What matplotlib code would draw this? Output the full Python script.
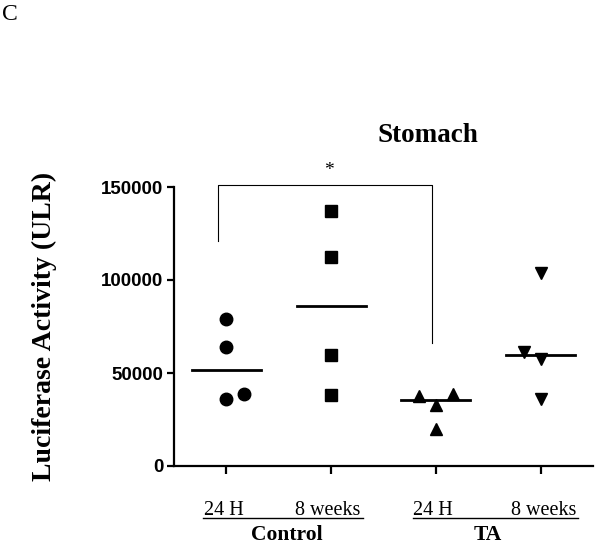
import matplotlib
matplotlib.use("Agg")
import matplotlib.pyplot as plt
import numpy as np

groups = ["Control 24 H", "Control 8 weeks", "TA 24 H", "TA 8 weeks"]
values = [
    [79200, 64100, 36200, 38700],
    [136900, 112200, 59500, 38000],
    [37500, 38500, 33000, 20000],
    [103900, 61300, 57700, 36200],
]
offsets = [
    [0.0, 0.0, 0.0, 0.17],
    [0.0, 0.0, 0.0, 0.0],
    [-0.16, 0.16, 0.0, 0.0],
    [0.0, -0.16, 0.0, 0.0],
]
markers = ["o", "s", "^", "v"]
sub_labels = ["24 H", "8 weeks", "24 H", "8 weeks"]
main_labels = ["Control", "TA"]
yticks = [0, 50000, 100000, 150000]

W, H = 601, 548
fig = plt.figure(figsize=(W / 100, H / 100), dpi=100)
ax = fig.add_axes([174 / W, 82 / H, (593 - 174) / W, (466 - 187) / H])

for i, (vals, offs, m) in enumerate(zip(values, offsets, markers)):
    xs = np.array(offs) + i
    ax.plot(xs, vals, linestyle="none", marker=m, color="black",
            markersize=9 if m != "s" else 8.5, clip_on=False, zorder=3)
    med = np.median(vals)
    ax.plot([i - 0.33, i + 0.33], [med, med], color="black", lw=2, zorder=2)

ax.set_xlim(-0.5, 3.5)
ax.set_ylim(0, 150000)
ax.set_xticks(range(4))
ax.set_xticklabels([])
ax.set_yticks(yticks)
ax.set_yticklabels([str(v) for v in yticks], fontname="Liberation Sans",
                   fontweight="bold", fontsize=13.5)
for s in ["top", "right"]:
    ax.spines[s].set_visible(False)
for s in ["left", "bottom"]:
    ax.spines[s].set_linewidth(1.6)
ax.tick_params(axis="y", length=5, width=1.6, pad=2.5)
ax.tick_params(axis="x", length=6, width=1.6)

# significance bracket
bx = [-0.08, -0.08, 1.96, 1.96]
by = [121000, 151200, 151200, 66300]
ax.plot(bx, by, color="black", lw=0.8, clip_on=False)
ax.text(0.98, 154500, "*", ha="center", va="bottom", fontsize=14,
        fontname="Liberation Serif")

ax.set_ylabel("Luciferase Activity (ULR)", fontname="Liberation Serif",
              fontweight="bold", fontsize=20)
ax.yaxis.set_label_coords((57 - 174) / (593 - 174), 0.5)

fig.text(428 / W, 1 - 136 / H, "Stomach", ha="center", va="center",
         fontname="Liberation Serif", fontweight="bold", fontsize=19.5)
fig.text(2 / W, 1 - 15 / H, "C", ha="left", va="center",
         fontname="Liberation Serif", fontsize=17)

# category labels below axis
trans = ax.get_xaxis_transform()
sub_x = [-0.02, 0.97, 1.97, 3.03]
for x, lab in zip(sub_x, sub_labels):
    ax.text(x, -0.177, lab, transform=trans, ha="center", va="baseline",
            fontname="Liberation Serif", fontsize=14.5)
line_spans = [(-0.22, 1.3), (1.78, 3.36)]
main_x = [0.58, 2.5]
for (x0, x1), mx, lab in zip(line_spans, main_x, main_labels):
    ax.plot([x0, x1], [-0.186, -0.186], transform=trans, color="black",
            lw=1, clip_on=False)
    ax.text(mx, -0.247, lab, transform=trans, ha="center",
            va="center", fontname="Liberation Serif", fontweight="bold",
            fontsize=15.5)

fig.savefig("out.png", dpi=100)
